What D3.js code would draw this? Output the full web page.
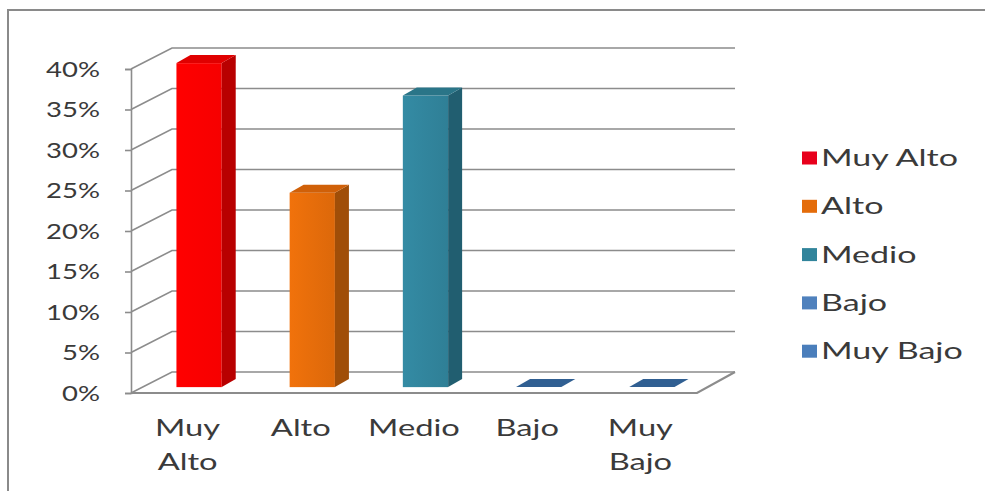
<!DOCTYPE html>
<html><head><meta charset="utf-8">
<script src="https://cdn.jsdelivr.net/npm/d3@7"></script>
<style>
body{margin:0;background:#fff}
text{font-family:Lato,"Open Sans",sans-serif;fill:#3a3a3a}
</style>
</head><body>
<svg id="c" width="985" height="491"></svg>
<script>
const categories = ["Muy Alto","Alto","Medio","Bajo","Muy Bajo"];
const categoryLines = [["Muy","Alto"],["Alto"],["Medio"],["Bajo"],["Muy","Bajo"]];
const values = [0.40, 0.24, 0.36, 0, 0];
const frontColors = ["#FF0000","#E46C0A","#31849B","#4F81BD","#4F81BD"];
const sideColors = ["#B80000","#A04E08","#215E70","#2F5F91","#2F5F91"];
const topColors = ["#E00000","#D06008","#2A7588","#305F92","#305F92"];
const legendColors = ["#E8001C","#E46C0A","#31849B","#4F81BD","#4A7EBB"];
const yTicks = [0,0.05,0.10,0.15,0.20,0.25,0.30,0.35,0.40];

const svg = d3.select("#c");
function stretch(sx){
  return sel=>sel.each(function(){
    const w=this.getComputedTextLength();
    this.setAttribute("textLength", w*sx);
    this.setAttribute("lengthAdjust","spacingAndGlyphs");
  });
}

// outer frame
svg.append("path").attr("d","M8,491 L8,10 L985,10").attr("fill","none").attr("stroke","#8a8a8a").attr("stroke-width",2);

const x0=131, x1=697, yb=393, yt=69;
const DX=41, DY=-21;
const x = d3.scaleBand().domain(categories).range([x0,x1]);
const y = d3.scaleLinear().domain([0,0.40]).range([yb,yt]);

const grid = svg.append("g").attr("fill","none").attr("stroke","#8c8c8c").attr("stroke-width",1.6);
yTicks.forEach(t=>{
  const yy=y(t);
  grid.append("path").attr("d",`M${x0},${yy} L${x0+DX},${yy+DY} L${x1+DX-3},${yy+DY}`);
});
// floor
grid.append("path").attr("d",`M${x0},${yb} L${x1},${yb} L${x1+DX-3},${yb+DY}`).attr("stroke-width",2.2);

// y axis
const ax = svg.append("g").attr("transform",`translate(${x0},0)`)
  .call(d3.axisLeft(y).tickValues(yTicks).tickFormat(d3.format(".0%")).tickSize(6).tickPadding(25));
ax.select(".domain").attr("stroke","#8c8c8c").attr("stroke-width",1.6);
ax.selectAll(".tick line").attr("stroke","#8c8c8c").attr("stroke-width",1.6);
ax.selectAll(".tick text").attr("font-size",22).attr("font-family","Lato").attr("fill","#3a3a3a").call(stretch(1.25));

// gradients
const defs = svg.append("defs");
frontColors.forEach((c,i)=>{
  const g=defs.append("linearGradient").attr("id","g"+i).attr("x1",0).attr("x2",1).attr("y1",0).attr("y2",0);
  g.append("stop").attr("offset",0).attr("stop-color",d3.color(c).brighter(0.15));
  g.append("stop").attr("offset",1).attr("stop-color",d3.color(c).darker(0.1));
});

// bars
const f=0.28, ox=f*DX, oy=f*DY, bdx=14, bdy=-8;
const bw = x.bandwidth()*0.4;
categories.forEach((c,i)=>{
  const cx = x(c)+x.bandwidth()/2+ox;
  const l=cx-bw/2, r=cx+bw/2;
  const base=yb+oy, top=y(values[i])+oy;
  const g=svg.append("g");
  if(values[i]>0){
    g.append("rect").attr("x",l).attr("y",top).attr("width",bw).attr("height",base-top).attr("fill",`url(#g${i})`);
    g.append("path").attr("d",`M${r},${top} L${r+bdx},${top+bdy} L${r+bdx},${base+bdy} L${r},${base}Z`).attr("fill",sideColors[i]);
  }
  g.append("path").attr("d",`M${l},${top} L${l+bdx},${top+bdy} L${r+bdx},${top+bdy} L${r},${top}Z`).attr("fill",topColors[i]);
});

// category labels
categories.forEach((c,i)=>{
  const cx=x(c)+x.bandwidth()/2;
  categoryLines[i].forEach((ln,j)=>{
    svg.append("text").attr("x",cx).attr("y",436+j*34).attr("text-anchor","middle").attr("font-size",23).text(ln).call(stretch(1.42));
  });
});

// legend
const lg = svg.append("g");
categories.forEach((c,i)=>{
  const cy=158+i*48.3;
  lg.append("rect").attr("x",802).attr("y",cy-6.5).attr("width",15).attr("height",13).attr("fill",legendColors[i]);
  lg.append("text").attr("x",821).attr("y",cy+8).attr("font-size",23).text(c).call(stretch(1.48));
});
</script>
</body></html>
